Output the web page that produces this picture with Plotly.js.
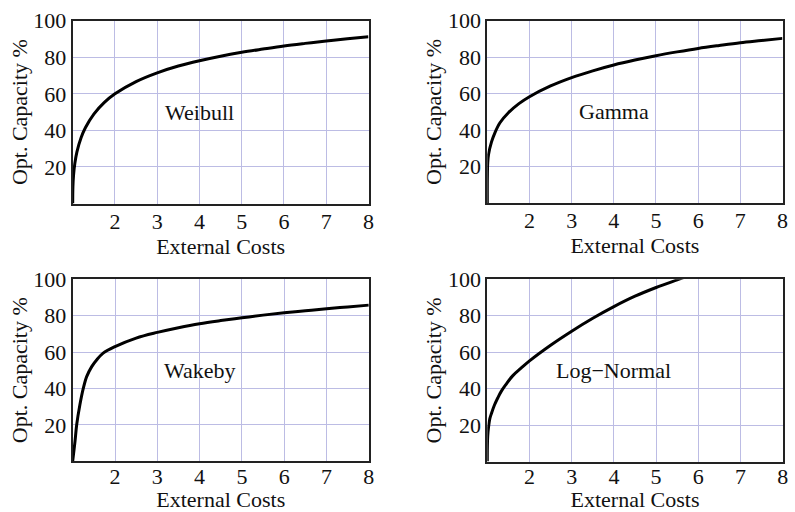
<!DOCTYPE html>
<html>
<head>
<meta charset="utf-8">
<script src="https://cdn.plot.ly/plotly-3.0.1.min.js"></script>
<style>
html,body{margin:0;padding:0;background:#fff;}
#chart{width:795px;height:512px;}
</style>
</head>
<body>
<div id="chart"></div>
<script>
// ---- data ----
const panelNames = ['Weibull', 'Gamma', 'Wakeby', 'Log\u2212Normal'];
const xTickVals = [2, 3, 4, 5, 6, 7, 8];
const yTickVals = [20, 40, 60, 80, 100];
const xAxisTitle = 'External Costs';
const yAxisTitle = 'Opt. Capacity %';

const weibullX = [1, 1.005, 1.02, 1.05, 1.1, 1.2, 1.3, 1.5, 1.75, 2, 2.5, 3, 3.5, 4, 4.5, 5, 5.5, 6, 6.5, 7, 7.5, 8];
const weibullY = [0, 9, 15.5, 21.8, 28.2, 36.1, 41.4, 48.9, 55.3, 60, 66.7, 71.5, 75.2, 78.1, 80.6, 82.7, 84.5, 86.2, 87.6, 88.9, 90.1, 91.2];

const gammaX = [1, 1.002, 1.01, 1.03, 1.1, 1.18, 1.3, 1.5, 1.75, 2, 2.5, 3, 3.5, 4, 4.5, 5, 5.5, 6, 6.5, 7, 7.5, 8];
const gammaY = [0, 15, 22, 26.7, 33.5, 38.5, 44, 49.5, 54.5, 58.3, 64.2, 68.8, 72.5, 75.7, 78.4, 80.8, 82.9, 84.8, 86.4, 87.9, 89.1, 90.3];

const wakebyX = [1, 1.03, 1.055, 1.094, 1.17, 1.25, 1.33, 1.45, 1.57, 1.72, 2, 2.5, 3, 3.5, 4, 4.5, 5, 5.5, 6, 6.5, 7, 7.5, 8];
const wakebyY = [0, 6, 11, 20, 31, 40, 46.5, 52, 55.8, 59.4, 63, 67.7, 70.8, 73.4, 75.6, 77.3, 78.8, 80.3, 81.6, 82.7, 83.8, 84.8, 85.8];

const lognormX = [1, 1.002, 1.01, 1.03, 1.06, 1.1, 1.17, 1.25, 1.33, 1.45, 1.6, 1.8, 2, 2.5, 3, 3.5, 4, 4.5, 5, 5.5, 6, 7, 8];
const lognormY = [0, 8, 14, 19, 23.5, 26.5, 31, 35, 38.5, 42.5, 47, 51.2, 55.2, 63.8, 71.5, 78.6, 85, 90.7, 95.5, 99.7, 103.8, 111.3, 118];

const seriesX = [weibullX, gammaX, wakebyX, lognormX];
const seriesY = [weibullY, gammaY, wakebyY, lognormY];

// ---- layout geometry (pixels in a 795x512 page) ----
const W = 795, H = 512;
const boxes = [
  {l: 72.7, r: 368.5, t: 20.7, b: 203.5, tls: -3, ts: 2},
  {l: 487.3, r: 782.5, t: 20.7, b: 203.0, tls: -3, ts: 2},
  {l: 72.7, r: 368.8, t: 279.3, b: 461.2, tls: -6, ts: 3},
  {l: 487.3, r: 782.7, t: 279.3, b: 461.5, tls: -6, ts: 3}
];

const fontFam = '"Liberation Serif", "Times New Roman", Times, serif';
const gridCol = 'rgb(188,188,228)';
const fs = 22;

const traces = [];
const layout = {
  width: W, height: H,
  margin: {l: 0, r: 0, t: 0, b: 0},
  paper_bgcolor: '#fff',
  plot_bgcolor: '#fff',
  showlegend: false,
  font: {family: fontFam, size: fs, color: '#111'},
  annotations: []
};

for (let i = 0; i < 4; i++) {
  const n = i === 0 ? '' : String(i + 1);
  const b = boxes[i];
  traces.push({
    type: 'scatter', mode: 'lines',
    x: seriesX[i], y: seriesY[i],
    xaxis: 'x' + n, yaxis: 'y' + n,
    line: {color: '#000', width: 3, shape: 'spline', smoothing: 1},
    hoverinfo: 'skip'
  });
  layout['xaxis' + n] = {
    domain: [b.l / W, b.r / W],
    anchor: 'y' + n,
    range: [1, 8],
    tickmode: 'array', tickvals: xTickVals,
    showgrid: true, gridcolor: gridCol, gridwidth: 1,
    zeroline: false,
    showline: true, mirror: true, linecolor: '#222', linewidth: 2,
    ticks: '', ticklen: 0,
    ticklabelstandoff: b.tls,
    tickfont: {family: fontFam, size: fs, color: '#111'},
    title: {text: xAxisTitle, font: {family: fontFam, size: fs, color: '#111'}, standoff: b.ts}
  };
  layout['yaxis' + n] = {
    domain: [1 - b.b / H, 1 - b.t / H],
    anchor: 'x' + n,
    range: [0, 100],
    tickmode: 'array', tickvals: yTickVals,
    showgrid: true, gridcolor: gridCol, gridwidth: 1,
    zeroline: false,
    showline: true, mirror: true, linecolor: '#222', linewidth: 2,
    ticks: '', ticklen: 0,
    tickfont: {family: fontFam, size: fs, color: '#111'},
    title: {text: yAxisTitle, font: {family: fontFam, size: fs, color: '#111'}, standoff: 0}
  };
  layout.annotations.push({
    xref: 'x' + n, yref: 'y' + n,
    x: 4, y: 50,
    text: panelNames[i],
    showarrow: false,
    font: {family: fontFam, size: fs, color: '#111'}
  });
}

Plotly.newPlot('chart', traces, layout, {staticPlot: true});
</script>
</body>
</html>
